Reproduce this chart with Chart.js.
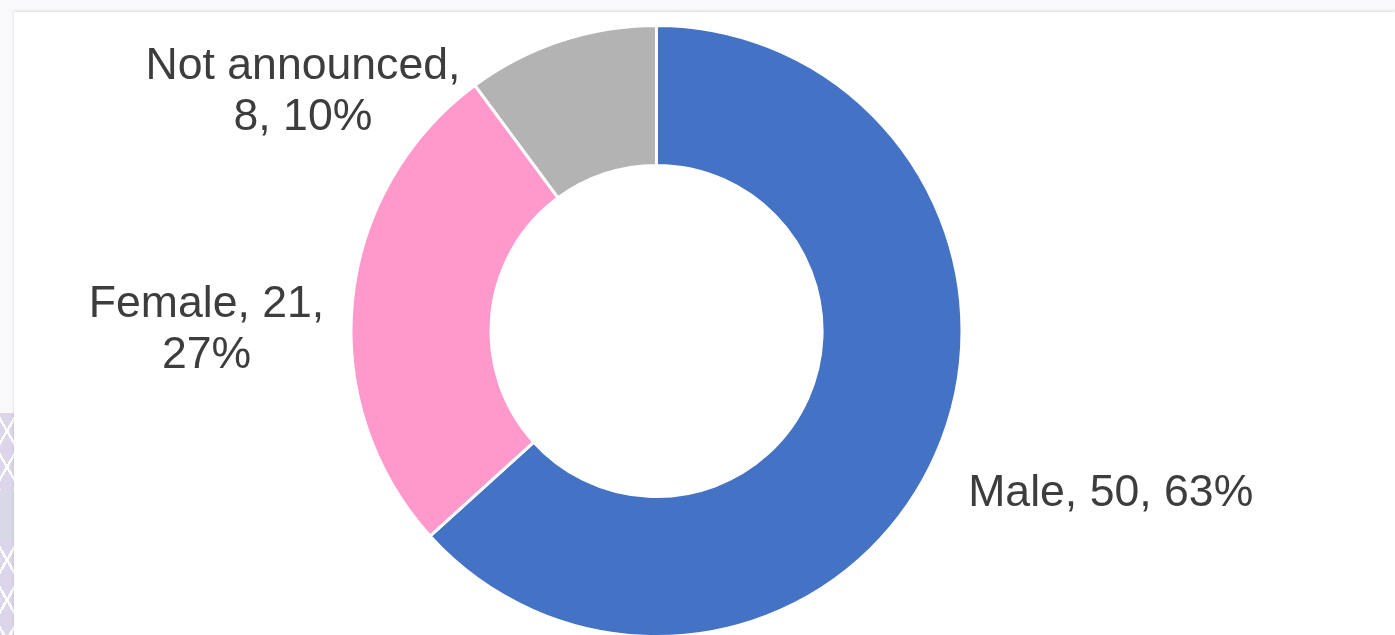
<!DOCTYPE html>
<html>
<head>
<meta charset="utf-8">
<script src="https://cdn.jsdelivr.net/npm/chart.js@4/dist/chart.umd.min.js"></script>
<style>
  html, body { margin: 0; padding: 0; }
  body {
    width: 1395px; height: 635px; overflow: hidden; position: relative;
    background: #f9f9fc;
  }
  #panel {
    position: absolute; left: 14px; top: 12px; width: 1381px; height: 623px;
    background: #fff; overflow: hidden;
    box-shadow: 0 -1px 3px rgba(0, 0, 0, 0.13);
  }
  .deco { position: absolute; left: 0; width: 14px; }
  .deco.a {
    top: 413px; height: 77px; background: #ddd6ea;
    background-image:
      linear-gradient(60deg, transparent 46%, #fff 46%, #fff 54%, transparent 54%),
      linear-gradient(-60deg, transparent 46%, #fff 46%, #fff 54%, transparent 54%);
    background-size: 14px 36px;
  }
  .deco.b { top: 490px; height: 50px; background: #d9d8e7; }
  .deco.c {
    top: 540px; height: 95px; background: #ddd6ea;
    background-image:
      linear-gradient(60deg, transparent 46%, #fff 46%, #fff 54%, transparent 54%),
      linear-gradient(-60deg, transparent 46%, #fff 46%, #fff 54%, transparent 54%);
    background-size: 14px 40px;
  }
</style>
</head>
<body>
<div class="deco a"></div>
<div class="deco b"></div>
<div class="deco c"></div>
<div id="panel"><canvas id="donut" width="1381" height="626"></canvas></div>
<script>
var categories = ["Male", "Female", "Not announced"];
var counts = [50, 21, 8];
var colours = ["#4472C4", "#FF99CC", "#B3B3B3"];

// where each data label sits, relative to the outer edge of its slice
var labelLayout = [
  { dx: 175, dy: 51, wrap: 400 },
  { dx: -146, dy: 16, wrap: 260 },
  { dx: -258, dy: 38, wrap: 330 }
];

var total = counts.reduce(function (a, b) { return a + b; }, 0);

function wrapText(ctx, text, maxWidth) {
  var words = text.split(" ");
  var lines = [];
  var line = "";
  words.forEach(function (w) {
    var test = line ? line + " " + w : w;
    if (line && ctx.measureText(test).width > maxWidth) {
      lines.push(line);
      line = w;
    } else {
      line = test;
    }
  });
  if (line) lines.push(line);
  return lines;
}

var sliceLabels = {
  id: "sliceLabels",
  afterDatasetsDraw: function (chart) {
    var ctx = chart.ctx;
    var meta = chart.getDatasetMeta(0);
    ctx.save();
    ctx.font = "44.6px 'Liberation Sans', Arial, sans-serif";
    ctx.fillStyle = "#3d3d3d";
    ctx.textAlign = "center";
    ctx.textBaseline = "alphabetic";
    meta.data.forEach(function (arc, i) {
      var p = arc.getProps(["x", "y", "startAngle", "endAngle", "outerRadius"], true);
      var mid = (p.startAngle + p.endAngle) / 2;
      var ax = p.x + Math.cos(mid) * p.outerRadius;
      var ay = p.y + Math.sin(mid) * p.outerRadius;
      var pct = Math.round(counts[i] / total * 100);
      var text = categories[i] + ", " + counts[i] + ", " + pct + "%";
      var lines = wrapText(ctx, text, labelLayout[i].wrap);
      lines.forEach(function (ln, k) {
        ctx.fillText(ln, ax + labelLayout[i].dx, ay + labelLayout[i].dy + k * 51);
      });
    });
    ctx.restore();
  }
};

var ctx = document.getElementById("donut");

new Chart(ctx, {
  type: "doughnut",
  data: {
    labels: categories,
    datasets: [
      {
        data: counts,
        backgroundColor: colours,
        borderColor: "#ffffff",
        borderWidth: 3
      }
    ]
  },
  options: {
    responsive: false,
    animation: false,
    cutout: "54.2%",
    layout: { padding: { top: 12, bottom: 0, left: 0, right: 96 } },
    plugins: {
      legend: { display: false },
      tooltip: { enabled: false }
    }
  },
  plugins: [sliceLabels]
});
</script>
</body>
</html>
